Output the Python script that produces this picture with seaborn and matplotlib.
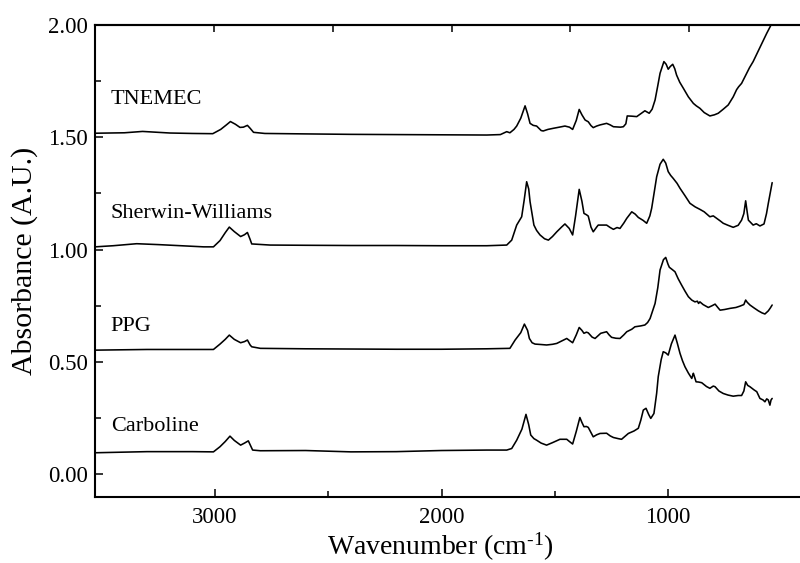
import numpy as np
import pandas as pd
import matplotlib
matplotlib.use("Agg")
import matplotlib.pyplot as plt
import seaborn as sns
from matplotlib.ticker import FixedLocator, FormatStrFormatter, NullFormatter

# ---------------- data ----------------
tnemec_wn = [3530, 3400, 3320, 3200, 3100, 3010, 2975, 2950, 2932, 2910, 2890, 2875, 2857, 2845,
             2830, 2780, 2600, 2400, 2200, 2000, 1800, 1740, 1712, 1698, 1680, 1668, 1650, 1631,
             1620, 1609, 1595, 1580, 1560, 1551, 1530, 1506, 1480, 1455, 1435, 1421, 1405, 1392,
             1380, 1366, 1352, 1340, 1330, 1315, 1300, 1271, 1255, 1241, 1210, 1197, 1186, 1180,
             1160, 1138, 1120, 1102, 1083, 1070, 1057, 1045, 1035, 1018, 1008, 999, 990, 979, 970,
             962, 948, 932, 910, 888, 875, 859, 840, 815, 795, 778, 756, 734, 712, 697, 688, 675,
             660, 640, 624, 594, 564, 547]
tnemec_abs = [1.518, 1.520, 1.526, 1.519, 1.517, 1.516, 1.535, 1.555, 1.570, 1.558, 1.544, 1.545,
              1.553, 1.540, 1.522, 1.517, 1.515, 1.513, 1.512, 1.511, 1.510, 1.512, 1.525, 1.520,
              1.535, 1.550, 1.585, 1.640, 1.605, 1.562, 1.553, 1.550, 1.530, 1.528, 1.535, 1.540,
              1.545, 1.550, 1.545, 1.535, 1.575, 1.624, 1.600, 1.577, 1.569, 1.552, 1.543, 1.550,
              1.555, 1.562, 1.555, 1.547, 1.545, 1.547, 1.560, 1.595, 1.594, 1.592, 1.605, 1.618,
              1.607, 1.625, 1.666, 1.730, 1.785, 1.837, 1.825, 1.803, 1.815, 1.825, 1.805, 1.777,
              1.745, 1.718, 1.680, 1.651, 1.640, 1.629, 1.610, 1.595, 1.600, 1.607, 1.625, 1.644,
              1.680, 1.712, 1.725, 1.740, 1.770, 1.810, 1.837, 1.900, 1.963, 1.996]

sw_wn = [3530, 3450, 3346, 3250, 3150, 3050, 3007, 2978, 2955, 2937, 2915, 2887, 2870, 2857, 2845,
         2838, 2757, 2600, 2400, 2200, 2000, 1800, 1712, 1690, 1668, 1646, 1635, 1624, 1615, 1609,
         1592, 1580, 1565, 1545, 1528, 1510, 1491, 1470, 1455, 1436, 1421, 1408, 1392, 1380, 1371,
         1360, 1352, 1340, 1330, 1315, 1308, 1271, 1255, 1241, 1225, 1212, 1195, 1182, 1160, 1145,
         1131, 1110, 1094, 1080, 1072, 1060, 1050, 1035, 1021, 1010, 999, 988, 977, 960, 947, 925,
         903, 880, 859, 840, 815, 800, 785, 770, 756, 735, 712, 690, 675, 665, 657, 650, 645, 624,
         610, 594, 576, 565, 557, 540]
sw_abs = [1.012, 1.017, 1.026, 1.022, 1.017, 1.012, 1.012, 1.040, 1.075, 1.100, 1.080, 1.058, 1.066,
          1.076, 1.045, 1.025, 1.020, 1.019, 1.018, 1.018, 1.017, 1.017, 1.020, 1.042, 1.109, 1.146,
          1.220, 1.302, 1.270, 1.213, 1.109, 1.085, 1.065, 1.048, 1.042, 1.058, 1.079, 1.100, 1.114,
          1.094, 1.065, 1.150, 1.268, 1.215, 1.161, 1.155, 1.149, 1.100, 1.079, 1.100, 1.109, 1.109,
          1.098, 1.090, 1.098, 1.094, 1.118, 1.139, 1.168, 1.158, 1.143, 1.130, 1.117, 1.150, 1.184,
          1.260, 1.324, 1.380, 1.402, 1.385, 1.347, 1.330, 1.317, 1.295, 1.273, 1.240, 1.206, 1.190,
          1.179, 1.168, 1.146, 1.150, 1.139, 1.128, 1.117, 1.108, 1.099, 1.108, 1.131, 1.160, 1.217,
          1.165, 1.131, 1.109, 1.115, 1.105, 1.114, 1.160, 1.206, 1.298]

ppg_wn = [3530, 3300, 3100, 3007, 2978, 2955, 2937, 2915, 2887, 2870, 2857, 2845, 2838, 2800, 2600,
          2400, 2200, 2000, 1800, 1698, 1675, 1650, 1634, 1620, 1612, 1600, 1587, 1560, 1536, 1510,
          1491, 1465, 1447, 1435, 1421, 1405, 1392, 1380, 1371, 1360, 1352, 1335, 1322, 1310, 1297,
          1271, 1260, 1249, 1230, 1212, 1195, 1182, 1160, 1146, 1120, 1102, 1090, 1079, 1057, 1045,
          1035, 1020, 1010, 1000, 994, 980, 969, 955, 940, 925, 910, 895, 881, 870, 865, 859, 845,
          822, 805, 792, 780, 770, 750, 726, 700, 682, 665, 657, 650, 638, 620, 601, 585, 572, 557,
          548, 540]
ppg_abs = [0.552, 0.555, 0.555, 0.555, 0.579, 0.600, 0.619, 0.600, 0.585, 0.590, 0.597, 0.575, 0.567,
           0.560, 0.558, 0.557, 0.556, 0.556, 0.558, 0.560, 0.597, 0.630, 0.668, 0.640, 0.604, 0.585,
           0.579, 0.577, 0.575, 0.578, 0.582, 0.595, 0.604, 0.595, 0.585, 0.620, 0.653, 0.640, 0.627,
           0.632, 0.629, 0.610, 0.604, 0.615, 0.627, 0.634, 0.620, 0.609, 0.605, 0.604, 0.620, 0.634,
           0.645, 0.656, 0.660, 0.664, 0.675, 0.693, 0.760, 0.830, 0.909, 0.955, 0.965, 0.935, 0.921,
           0.910, 0.901, 0.870, 0.842, 0.815, 0.790, 0.775, 0.767, 0.770, 0.760, 0.767, 0.755, 0.742,
           0.750, 0.757, 0.742, 0.730, 0.733, 0.738, 0.742, 0.748, 0.755, 0.775, 0.765, 0.753, 0.740,
           0.727, 0.718, 0.713, 0.727, 0.740, 0.753]

carb_wn = [3530, 3300, 3100, 3007, 2978, 2955, 2934, 2915, 2887, 2870, 2853, 2840, 2834, 2800, 2600,
           2400, 2200, 2000, 1800, 1712, 1690, 1668, 1645, 1627, 1615, 1606, 1592, 1580, 1560, 1536,
           1510, 1477, 1447, 1435, 1421, 1405, 1389, 1380, 1371, 1360, 1352, 1340, 1330, 1315, 1300,
           1271, 1255, 1241, 1220, 1205, 1190, 1175, 1150, 1131, 1120, 1109, 1097, 1085, 1076, 1062,
           1050, 1043, 1030, 1021, 1010, 999, 985, 969, 958, 947, 936, 925, 910, 895, 888, 885, 876,
           865, 851, 830, 815, 800, 792, 775, 756, 735, 712, 690, 675, 665, 657, 648, 638, 620, 608,
           594, 580, 572, 564, 557, 550, 545, 540]
carb_abs = [0.095, 0.100, 0.100, 0.099, 0.122, 0.145, 0.169, 0.150, 0.129, 0.138, 0.148, 0.120, 0.107,
            0.104, 0.105, 0.099, 0.100, 0.105, 0.107, 0.107, 0.114, 0.151, 0.200, 0.266, 0.220, 0.174,
            0.158, 0.151, 0.138, 0.129, 0.140, 0.155, 0.155, 0.145, 0.134, 0.190, 0.252, 0.230, 0.211,
            0.212, 0.208, 0.185, 0.166, 0.175, 0.181, 0.182, 0.170, 0.163, 0.158, 0.155, 0.168, 0.181,
            0.192, 0.204, 0.240, 0.285, 0.293, 0.265, 0.248, 0.270, 0.360, 0.434, 0.510, 0.545, 0.540,
            0.530, 0.580, 0.619, 0.580, 0.538, 0.505, 0.478, 0.450, 0.426, 0.449, 0.440, 0.411, 0.410,
            0.407, 0.390, 0.382, 0.392, 0.389, 0.370, 0.359, 0.352, 0.347, 0.350, 0.350, 0.370, 0.411,
            0.395, 0.389, 0.375, 0.367, 0.337, 0.330, 0.322, 0.335, 0.330, 0.307, 0.330, 0.337]

series_names = ["TNEMEC", "Sherwin-Williams", "PPG", "Carboline"]
label_y = [1.666, 1.161, 0.659, 0.211]
label_x = 3460

x_major = [1000, 2000, 3000]
x_minor = [1500, 2500]
top_ticks = [1000, 1500, 2000, 2500, 3000]
y_major = [0.0, 0.5, 1.0, 1.5, 2.0]
y_minor = [0.25, 0.75, 1.25, 1.75]

# ---------------- build long-form table ----------------
frames = []
for name, wn, ab in zip(series_names,
                        [tnemec_wn, sw_wn, ppg_wn, carb_wn],
                        [tnemec_abs, sw_abs, ppg_abs, carb_abs]):
    frames.append(pd.DataFrame({"wavenumber": wn, "absorbance": ab, "sample": name}))
df = pd.concat(frames, ignore_index=True)

# ---------------- style ----------------
sns.set_theme(style="ticks")
plt.rcParams["font.family"] = ["Liberation Serif", "DejaVu Serif"]
plt.rcParams["mathtext.fontset"] = "custom"
plt.rcParams["mathtext.rm"] = "Liberation Serif"
plt.rcParams["mathtext.it"] = "Liberation Serif:italic"

fig = plt.figure(figsize=(8, 5.63), dpi=100)
ax = fig.add_axes([95 / 800, 1 - 497 / 563, 710 / 800, 472 / 563])

sns.lineplot(data=df, x="wavenumber", y="absorbance", units="sample", estimator=None,
             sort=False, color="black", linewidth=1.15, ax=ax, legend=False)

ax.set_xlim(3530, 395)
ax.set_ylim(-0.102, 2.0)

for name, yv in zip(series_names, label_y):
    ax.text(label_x, yv, name, fontsize=16, ha="left", va="center", color="black")

ax.xaxis.set_major_locator(FixedLocator(x_major))
ax.xaxis.set_minor_locator(FixedLocator(x_minor))
ax.yaxis.set_major_locator(FixedLocator(y_major))
ax.yaxis.set_minor_locator(FixedLocator(y_minor))
ax.yaxis.set_major_formatter(FormatStrFormatter("%.2f"))

ax.tick_params(axis="both", which="major", direction="in", length=6, width=1.1,
               labelsize=16.5, color="black", labelcolor="black")
ax.tick_params(axis="both", which="minor", direction="in", length=4, width=1.1, color="black")
ax.tick_params(axis="x", which="both", top=False, pad=7)
ax.tick_params(axis="y", which="both", right=False, pad=5)

for s in ax.spines.values():
    s.set_linewidth(1.5)
    s.set_color("black")

# top axis with its own scale (as in the reference)
def fwd(d):
    return 1000 + (np.asarray(d) - 906) / 1.049

def inv(t):
    return 906 + (np.asarray(t) - 1000) * 1.049

sec = ax.secondary_xaxis("top", functions=(fwd, inv))
sec.xaxis.set_major_locator(FixedLocator(top_ticks))
sec.xaxis.set_major_formatter(NullFormatter())
sec.tick_params(direction="in", length=5, width=1.1, color="black")
sec.spines["top"].set_linewidth(1.5)

ax.set_xlabel("Wavenumber (cm$^{\\text{-}1}$)", fontsize=20, color="black", labelpad=2)
ax.xaxis.label.set_x((440 - 95) / 710)
ax.set_ylabel("Absorbance (A.U.)", fontsize=21.5, color="black", labelpad=7)

fig.savefig("out.png", dpi=100)
